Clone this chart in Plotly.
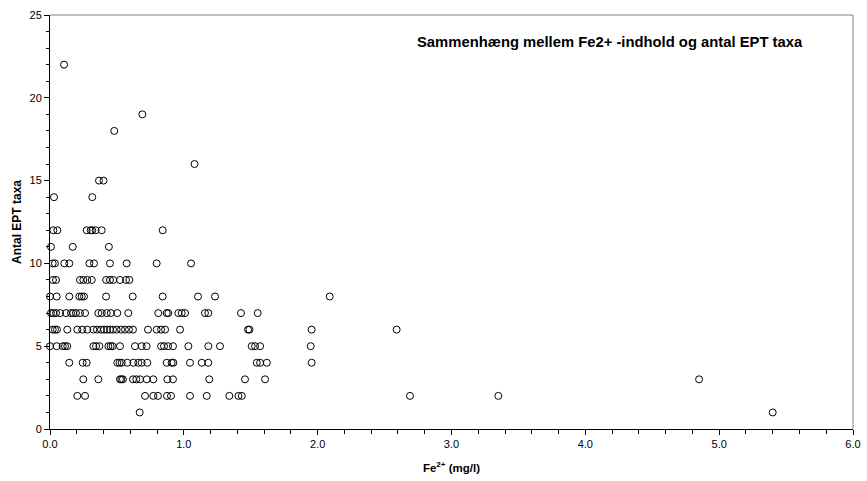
import plotly.graph_objects as go

# Fe2+ (mg/l) values grouped by the number of EPT taxa (y)
fe_y22 = [0.105]
fe_y19 = [0.69]
fe_y18 = [0.48]
fe_y16 = [1.08]
fe_y15 = [0.366, 0.40]
fe_y14 = [0.03, 0.316]
fe_y12 = [0.025, 0.055, 0.274, 0.304, 0.316, 0.341, 0.386, 0.842]
fe_y11 = [0.007, 0.17, 0.44]
fe_y10 = [0.02, 0.037, 0.107, 0.144, 0.294, 0.329, 0.448, 0.573, 0.797, 1.054]
fe_y9 = [0.022, 0.045, 0.224, 0.249, 0.279, 0.312, 0.419, 0.448, 0.473, 0.523, 0.568, 0.593]
fe_y8 = [0.0, 0.05, 0.144, 0.219, 0.237, 0.254, 0.419, 0.618, 0.842, 1.106, 1.233, 2.09]
fe_y7 = [0.007, 0.025, 0.045, 0.075, 0.12, 0.157, 0.174, 0.194, 0.224, 0.262, 0.361, 0.386,
         0.424, 0.454, 0.503, 0.585, 0.809, 0.872, 0.884, 0.959, 0.984, 1.009, 1.158, 1.183,
         1.427, 1.552]
fe_y6 = [0.02, 0.037, 0.052, 0.129, 0.204, 0.241, 0.279, 0.324, 0.351, 0.381, 0.404, 0.426,
         0.448, 0.471, 0.498, 0.531, 0.56, 0.59, 0.62, 0.732, 0.797, 0.83, 0.86, 0.972,
         1.48, 1.49, 1.955, 2.59]
fe_y5 = [0.0, 0.05, 0.095, 0.112, 0.129, 0.324, 0.344, 0.369, 0.436, 0.453, 0.468, 0.523,
         0.635, 0.685, 0.722, 0.83, 0.852, 0.882, 0.919, 1.034, 1.183, 1.27, 1.507, 1.532,
         1.57, 1.948]
fe_y4 = [0.144, 0.244, 0.274, 0.503, 0.52, 0.536, 0.578, 0.623, 0.66, 0.685, 0.727, 0.872,
         0.909, 0.922, 1.046, 1.134, 1.183, 1.545, 1.57, 1.62, 1.955]
fe_y3 = [0.249, 0.361, 0.523, 0.533, 0.545, 0.62, 0.645, 0.673, 0.723, 0.772, 0.877, 0.919,
         1.19, 1.457, 1.607, 4.85]
fe_y2 = [0.204, 0.262, 0.71, 0.772, 0.807, 0.874, 0.904, 1.046, 1.171, 1.34, 1.408, 1.433,
         2.69, 3.35]
fe_y1 = [0.67, 5.40]

groups = {22: fe_y22, 19: fe_y19, 18: fe_y18, 16: fe_y16, 15: fe_y15, 14: fe_y14,
          12: fe_y12, 11: fe_y11, 10: fe_y10, 9: fe_y9, 8: fe_y8, 7: fe_y7, 6: fe_y6,
          5: fe_y5, 4: fe_y4, 3: fe_y3, 2: fe_y2, 1: fe_y1}

xs, ys = [], []
for taxa, fes in groups.items():
    for f in fes:
        xs.append(f)
        ys.append(taxa)

title_text = "Sammenhæng mellem Fe2+ -indhold og antal EPT taxa"
x_title = "Fe<sup>2+</sup> (mg/l)"
y_title = "Antal EPT taxa"

FONT = "Liberation Sans, Arial, sans-serif"

fig = go.Figure(go.Scatter(
    x=xs, y=ys, mode="markers", cliponaxis=False,
    marker=dict(symbol="circle-open", size=7, color="black", line=dict(width=1, color="black")),
    hoverinfo="x+y", showlegend=False))

fig.update_layout(
    width=867, height=481,
    margin=dict(l=50, r=14, t=15, b=52, autoexpand=False),
    paper_bgcolor="white", plot_bgcolor="white",
    font=dict(family=FONT, color="black", size=11),
    xaxis=dict(range=[0, 6], dtick=1, tick0=0, tickformat=".1f", automargin=False,
               showgrid=False, zeroline=False, showline=True, linecolor="black", linewidth=1,
               ticks="outside", ticklen=5, tickcolor="black", tickwidth=1,
               minor=dict(dtick=0.2, ticks="outside", ticklen=4, tickcolor="black"),
               tickfont=dict(size=11, family=FONT),
               title=dict(text=x_title, font=dict(size=11.5, family=FONT, weight="bold"), standoff=14)),
    yaxis=dict(range=[0, 25], dtick=5, tick0=0, automargin=False,
               showgrid=False, zeroline=False, showline=True, linecolor="black", linewidth=1,
               ticks="outside", ticklen=5, tickcolor="black", tickwidth=1,
               minor=dict(dtick=1, ticks="outside", ticklen=3, tickcolor="black"),
               tickfont=dict(size=11, family=FONT),
               title=dict(text=y_title, font=dict(size=12, family=FONT, weight="bold"), standoff=5)),
    shapes=[
        dict(type="line", xref="paper", yref="paper", x0=0, x1=1, y0=1, y1=1,
             line=dict(color="#808080", width=1)),
        dict(type="line", xref="paper", yref="paper", x0=1, x1=1, y0=0, y1=1,
             line=dict(color="#808080", width=1)),
    ],
    annotations=[dict(text="<b>" + title_text + "</b>", xref="paper", yref="paper",
                      x=0.455, y=0.935, xanchor="left", yanchor="middle", showarrow=False,
                      font=dict(size=14.8, family=FONT, color="black"))],
)

fig.write_html("out.html")
